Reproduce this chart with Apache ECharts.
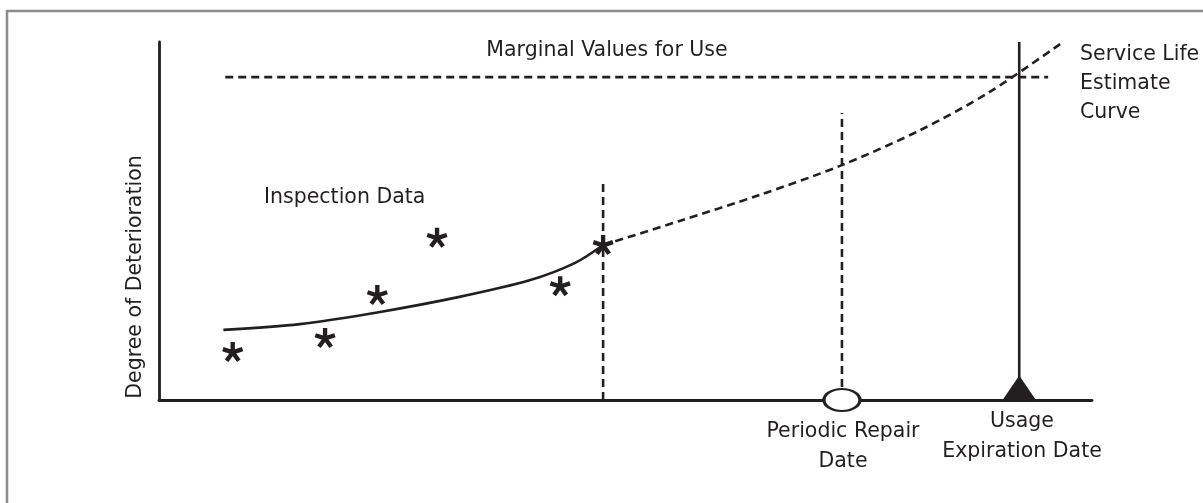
<!DOCTYPE html>
<html>
<head>
<meta charset="utf-8">
<script src="https://cdn.jsdelivr.net/npm/echarts@6/dist/echarts.min.js"></script>
<style>
  html, body { margin: 0; padding: 0; background: #fff; }
  #chart { width: 1203px; height: 503px; }
</style>
</head>
<body>
<div id="chart"></div>
<script>
// inspection measurements (asterisks)
const inspX = [7.9, 17.8, 23.4, 29.8, 43.0, 47.6];
const inspY = [13.4, 17.3, 29.3, 45.3, 31.8, 43.3];
// fitted curve through inspection data (solid)
const fitX = [6.9, 15.1, 23.7, 32.2, 39.8, 44.6, 47.6];
const fitY = [19.6, 21.2, 24.6, 28.8, 33.5, 38.3, 43.3];
// service life estimate curve (dashed)
const estX = [47.6, 55.8, 64.4, 73.0, 81.6, 89.0, 96.9];
const estY = [43.3, 50.0, 57.3, 65.4, 75.4, 86.0, 100];
// marginal value for use
const marginY = 90.2;
const marginX = [7.1, 95.3];
// key dates on the time axis
const inspectDate = 47.6;
const repairDate = 73.2;
const expiryDate = 92.2;
const inspectTop = 61.5;
const repairTop = 80.2;

const ink = '#231f20';
const font = '"DejaVu Sans"';
const fs = '20.5px ';

// five-armed asterisk shape
function asteriskPath() {
  let d = '';
  const w = 0.21;
  for (let i = 0; i < 5; i++) {
    const a = -Math.PI / 2 + i * 2 * Math.PI / 5;
    const cx = Math.cos(a), cy = Math.sin(a);
    const px = -cy * w, py = cx * w;
    const pts = [[px, py], [cx + px, cy + py], [cx - px, cy - py], [-px, -py]];
    d += 'M' + pts.map(p => (p[0] * 10 + 10).toFixed(2) + ' ' + (p[1] * 10 + 10).toFixed(2)).join('L') + 'Z';
  }
  return 'path://' + d;
}

const chart = echarts.init(document.getElementById('chart'));

const zip = (xs, ys) => xs.map((x, i) => [x, ys[i]]);

const option = {
  animation: false,
  backgroundColor: '#fff',
  grid: { left: 159, top: 42, width: 933, height: 358 },
  xAxis: {
    type: 'value', min: 0, max: 100,
    axisLine: { show: true, lineStyle: { color: ink, width: 2.8 } },
    axisTick: { show: false }, axisLabel: { show: false }, splitLine: { show: false }
  },
  yAxis: {
    type: 'value', min: 0, max: 100,
    axisLine: { show: true, lineStyle: { color: ink, width: 2.8 } },
    axisTick: { show: false }, axisLabel: { show: false }, splitLine: { show: false }
  },
  series: [
    {
      type: 'line', data: [[marginX[0], marginY], [marginX[1], marginY]],
      symbol: 'none', lineStyle: { color: ink, width: 2.6, type: [8, 5] }
    },
    {
      type: 'line', data: [[inspectDate, 0], [inspectDate, inspectTop]],
      symbol: 'none', lineStyle: { color: ink, width: 2.6, type: [8, 5] }
    },
    {
      type: 'line', data: [[repairDate, 0], [repairDate, repairTop]],
      symbol: 'none', lineStyle: { color: ink, width: 2.6, type: [8, 5] }
    },
    {
      type: 'line', data: [[expiryDate, 0], [expiryDate, 100]],
      symbol: 'none', lineStyle: { color: ink, width: 2.6 }
    },
    {
      type: 'line', data: zip(fitX, fitY), smooth: 0.3,
      symbol: 'none', lineStyle: { color: ink, width: 2.6 }
    },
    {
      type: 'line', data: zip(estX, estY), smooth: 0.3,
      symbol: 'none', lineStyle: { color: ink, width: 2.6, type: [8, 5] }
    },
    {
      type: 'scatter', data: zip(inspX, inspY), z: 5,
      symbol: asteriskPath(), symbolSize: 21, symbolKeepAspect: true,
      itemStyle: { color: ink, opacity: 1 }
    },
    {
      type: 'scatter', z: 6,
      data: [
        { value: [repairDate, 0], symbol: 'circle', symbolSize: [36, 22],
          itemStyle: { color: '#fff', borderColor: ink, borderWidth: 2.6 } },
        { value: [expiryDate, 0], symbol: 'triangle', symbolSize: [34, 25], symbolOffset: [0, -12],
          itemStyle: { color: ink } }
      ],
      itemStyle: { opacity: 1 }
    }
  ],
  graphic: [
    { type: 'rect', shape: { x: 7, y: 11, width: 1210, height: 510 }, silent: true,
      style: { fill: 'none', stroke: '#8c8c8c', lineWidth: 2.5 } },
    { type: 'text', x: 607, y: 51, style: { text: 'Marginal Values for Use', font: fs + font, fill: ink, align: 'center', verticalAlign: 'middle' } },
    { type: 'text', x: 264, y: 198, style: { text: 'Inspection Data', font: fs + font, fill: ink, align: 'left', verticalAlign: 'middle' } },
    { type: 'text', x: 1080, y: 84, style: { text: 'Service Life\nEstimate\nCurve', font: fs + font, lineHeight: 29, fill: ink, align: 'left', verticalAlign: 'middle' } },
    { type: 'text', x: 136, y: 277, rotation: Math.PI / 2, style: { text: 'Degree of Deterioration', font: fs + font, fill: ink, align: 'center', verticalAlign: 'middle' } },
    { type: 'text', x: 843, y: 447, style: { text: 'Periodic Repair\nDate', font: fs + font, lineHeight: 30, fill: ink, align: 'center', verticalAlign: 'middle' } },
    { type: 'text', x: 1022, y: 437, style: { text: 'Usage\nExpiration Date', font: fs + font, lineHeight: 30, fill: ink, align: 'center', verticalAlign: 'middle' } }
  ]
};

chart.setOption(option);
window.addEventListener('resize', () => chart.resize());
</script>
</body>
</html>
